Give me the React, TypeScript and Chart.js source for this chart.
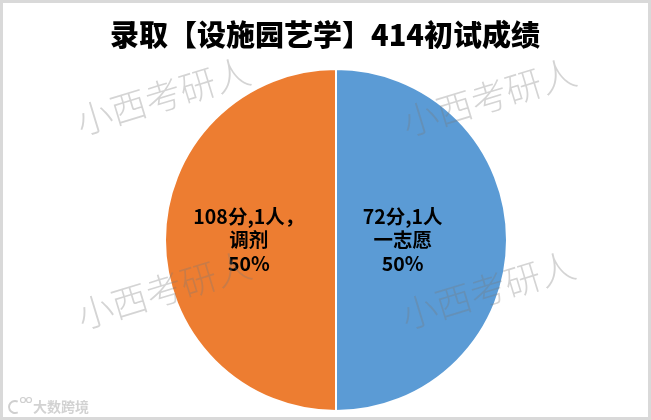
import React, { useEffect, useRef } from "react";
import { Chart, registerables } from "chart.js";

Chart.register(...registerables);

const titleText = "录取【设施园艺学】414初试成绩";
const categories = ["72分,1人\n一志愿", "108分,1人，\n调剂"];
const values = [1, 1];
const colors = ["#5B9BD5", "#ED7D31"];
const labelRadiusFactor = [0.39, 0.51];
const watermarkText = "小西考研人";
const logoText = "大数跨境";

const FONT = '"Noto Sans CJK SC", "Noto Sans", sans-serif';

const decorPlugin = {
  id: "decor",
  afterDatasetsDraw(chart: any) {
    const ctx = chart.ctx as CanvasRenderingContext2D;
    const meta = chart.getDatasetMeta(0);
    const total = values.reduce((a, b) => a + b, 0);
    ctx.save();
    ctx.fillStyle = "#000";
    ctx.textAlign = "center";
    ctx.textBaseline = "middle";
    ctx.font = `bold 19.5px ${FONT}`;
    meta.data.forEach((arc: any, i: number) => {
      const mid = (arc.startAngle + arc.endAngle) / 2;
      const r = arc.outerRadius * labelRadiusFactor[i];
      const x = arc.x + Math.cos(mid) * r;
      const y = arc.y + Math.sin(mid) * r;
      const pct = Math.round((values[i] / total) * 100) + "%";
      const lines = [...categories[i].split("\n"), pct];
      const lh = 23.5;
      const y0 = y - ((lines.length - 1) * lh) / 2;
      lines.forEach((ln, k) => ctx.fillText(ln, x, y0 + k * lh));
    });
    ctx.restore();
  },
  afterDraw(chart: any) {
    const ctx = chart.ctx as CanvasRenderingContext2D;
    const W = chart.width;
    const H = chart.height;
    // title
    ctx.save();
    ctx.fillStyle = "#000";
    ctx.textAlign = "center";
    ctx.textBaseline = "middle";
    ctx.font = `900 29px ${FONT}`;
    ctx.fillText(titleText, 325, 35);
    ctx.restore();
    // watermarks
    const marks = [
      [163, 96],
      [489, 97],
      [164, 290],
      [488, 290],
    ];
    ctx.save();
    ctx.fillStyle = "rgba(120,120,120,0.32)";
    ctx.textAlign = "center";
    ctx.textBaseline = "middle";
    ctx.font = `300 36px ${FONT}`;
    marks.forEach(([mx, my]) => {
      ctx.save();
      ctx.translate(mx, my);
      ctx.rotate((-17 * Math.PI) / 180);
      ctx.fillText(watermarkText, 0, 0);
      ctx.restore();
    });
    ctx.restore();
    // logo
    ctx.save();
    ctx.strokeStyle = "#cfcfcf";
    ctx.lineWidth = 2;
    ctx.beginPath();
    ctx.arc(15, 407, 6, Math.PI * 0.35, Math.PI * 1.65);
    ctx.stroke();
    ctx.lineWidth = 1.2;
    ctx.beginPath();
    ctx.arc(23, 400, 2.5, 0, Math.PI * 2);
    ctx.stroke();
    ctx.beginPath();
    ctx.arc(29, 400, 2.5, 0, Math.PI * 2);
    ctx.stroke();
    ctx.fillStyle = "#d2d2d2";
    ctx.textAlign = "left";
    ctx.textBaseline = "middle";
    ctx.font = `bold 14px ${FONT}`;
    ctx.fillText(logoText, 33, 407);
    ctx.restore();
    // border
    ctx.save();
    ctx.strokeStyle = "#d9d9d9";
    ctx.lineWidth = 3;
    ctx.strokeRect(1.5, 1.5, W - 3, H - 3);
    ctx.restore();
  },
};

export default function App() {
  const ref = useRef<HTMLCanvasElement | null>(null);
  useEffect(() => {
    if (!ref.current) return;
    const chart = new Chart(ref.current, {
      type: "pie",
      data: {
        labels: categories.map((c) => c.replace("\n", " ")),
        datasets: [
          {
            data: values,
            backgroundColor: colors,
            borderColor: "#ffffff",
            borderWidth: 2,
          },
        ],
      },
      options: {
        responsive: false,
        animation: false,
        devicePixelRatio: 1,
        layout: { padding: { top: 68, bottom: 8, left: 21, right: 0 } },
        plugins: {
          legend: { display: false },
          title: { display: false },
          tooltip: { enabled: false },
        },
      },
      plugins: [decorPlugin],
    });
    return () => chart.destroy();
  }, []);
  return (
    <div style={{ position: "absolute", left: 0, top: 0, width: 651, height: 420, background: "#fff" }}>
      <canvas ref={ref} width={651} height={420} style={{ width: 651, height: 420, display: "block" }} />
    </div>
  );
}
